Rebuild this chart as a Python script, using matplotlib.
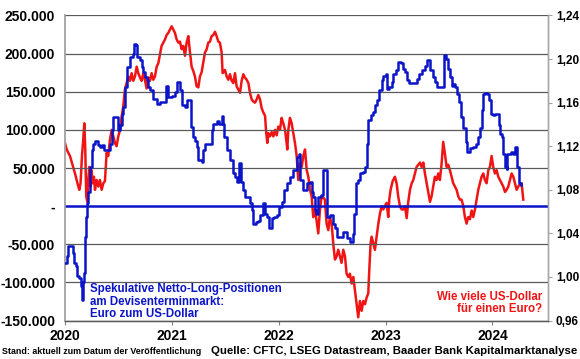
import numpy as np
import matplotlib
matplotlib.use("Agg")
import matplotlib.pyplot as plt
from matplotlib.ticker import FuncFormatter, MultipleLocator

plt.rcParams['font.family'] = ['Liberation Sans', 'DejaVu Sans']
plt.rcParams['font.weight'] = 'bold'

# Netto-Long-Positionen (Kontrakte, in Tsd.), x = Jahre seit 2020
pos_t = [0.000, 0.016, 0.031, 0.062, 0.072, 0.084, 0.103, 0.115, 0.134, 0.146, 0.156, 0.165, 0.178,
         0.184, 0.196, 0.203, 0.218, 0.234, 0.249, 0.265, 0.281, 0.312, 0.327, 0.343, 0.365, 0.390,
         0.421, 0.437, 0.452, 0.483, 0.499, 0.515, 0.530, 0.546, 0.561, 0.577, 0.608, 0.633, 0.645,
         0.664, 0.677, 0.702, 0.717, 0.733, 0.748, 0.764, 0.780, 0.795, 0.826, 0.858, 0.889, 0.920,
         0.945, 0.967, 0.998, 1.029, 1.051, 1.076, 1.091, 1.123, 1.138, 1.163, 1.176, 1.201, 1.216,
         1.238, 1.247, 1.278, 1.294, 1.310, 1.341, 1.372, 1.388, 1.419, 1.444, 1.466, 1.475, 1.488,
         1.513, 1.544, 1.569, 1.591, 1.612, 1.631, 1.643, 1.662, 1.684, 1.731, 1.747, 1.762, 1.787,
         1.809, 1.825, 1.850, 1.871, 1.893, 1.912, 1.934, 1.958, 1.980, 2.005, 2.027, 2.049, 2.074,
         2.105, 2.136, 2.167, 2.186, 2.198, 2.230, 2.261, 2.292, 2.308, 2.323, 2.339, 2.348, 2.370,
         2.392, 2.411, 2.442, 2.454, 2.479, 2.504, 2.526, 2.548, 2.579, 2.604, 2.635, 2.667, 2.691,
         2.707, 2.723, 2.744, 2.760, 2.785, 2.807, 2.822, 2.838, 2.860, 2.885, 2.901, 2.922, 2.941,
         2.963, 2.979, 3.004, 3.016, 3.035, 3.057, 3.073, 3.098, 3.113, 3.142, 3.160, 3.182, 3.198,
         3.223, 3.245, 3.276, 3.292, 3.317, 3.339, 3.370, 3.386, 3.417, 3.439, 3.461, 3.483, 3.514,
         3.539, 3.545, 3.564, 3.585, 3.601, 3.617, 3.632, 3.648, 3.670, 3.689, 3.710, 3.726, 3.751,
         3.764, 3.789, 3.820, 3.845, 3.867, 3.882, 3.898, 3.914, 3.929, 3.951, 3.970, 3.983, 4.001,
         4.023, 4.045, 4.058, 4.070, 4.086, 4.102, 4.117, 4.133, 4.139, 4.158, 4.171, 4.189, 4.211,
         4.227, 4.233, 4.246, 4.258, 4.268]
pos_v = [-75, -65, -52, -52, -62, -75, -79, -92, -94, -105, -123, -100, -88,
         -40, -14, 4, 19, 51, 73, 82, 86, 80, 78, 80, 74, 73,
         82, 100, 117, 117, 100, 106, 121, 130, 156, 182, 195, 200, 213,
         211, 195, 191, 182, 176, 169, 165, 156, 152, 141, 134, 137, 137,
         158, 143, 145, 150, 163, 152, 132, 130, 139, 139, 104, 91, 86,
         78, 60, 58, 73, 82, 82, 100, 108, 112, 108, 118, 108, 91,
         73, 60, 43, 38, 32, 56, 32, 21, 12, 4, -5, -23, -21,
         -19, -12, 4, -10, -14, -29, -16, -14, -12, -1, 6, 21, 30,
         38, 47, 64, 69, 34, 21, 30, 32, 19, 12, -5, -10, 12,
         14, 47, 47, -14, -12, -23, -29, -40, -40, -34, -42, -47, -36,
         -10, 30, 34, 43, 45, 51, 82, 113, 119, 123, 132, 139, 152,
         165, 171, 173, 154, 156, 163, 173, 178, 189, 187, 180, 176, 165,
         161, 161, 161, 167, 173, 178, 184, 191, 178, 169, 163, 156, 156,
         156, 198, 193, 180, 169, 158, 160, 156, 147, 137, 117, 102, 84,
         71, 76, 78, 82, 91, 102, 126, 147, 148, 147, 139, 121, 119,
         121, 121, 106, 95, 91, 69, 51, 49, 69, 69, 71, 69, 78,
         78, 51, 30, 30, 28]

# EUR/USD, x = Jahre seit 2020
fx_t = [0.000, 0.016, 0.031, 0.047, 0.062, 0.078, 0.094, 0.109, 0.125, 0.134, 0.146, 0.159, 0.171,
        0.181, 0.190, 0.199, 0.209, 0.218, 0.228, 0.240, 0.249, 0.259, 0.271, 0.281, 0.296, 0.312,
        0.327, 0.343, 0.359, 0.374, 0.390, 0.405, 0.421, 0.437, 0.452, 0.468, 0.483, 0.499, 0.515,
        0.530, 0.546, 0.561, 0.577, 0.593, 0.608, 0.624, 0.639, 0.655, 0.671, 0.686, 0.702, 0.717,
        0.733, 0.748, 0.764, 0.780, 0.795, 0.811, 0.826, 0.842, 0.858, 0.873, 0.889, 0.904, 0.920,
        0.936, 0.951, 0.967, 0.982, 0.998, 1.014, 1.029, 1.045, 1.061, 1.076, 1.092, 1.107, 1.123,
        1.138, 1.154, 1.170, 1.185, 1.201, 1.216, 1.232, 1.248, 1.263, 1.279, 1.294, 1.310, 1.326,
        1.341, 1.357, 1.372, 1.388, 1.404, 1.419, 1.435, 1.450, 1.466, 1.475, 1.497, 1.513, 1.528,
        1.544, 1.560, 1.575, 1.591, 1.606, 1.622, 1.638, 1.653, 1.669, 1.684, 1.700, 1.716, 1.731,
        1.747, 1.762, 1.778, 1.794, 1.809, 1.825, 1.840, 1.856, 1.872, 1.881, 1.893, 1.903, 1.918,
        1.934, 1.950, 1.965, 1.981, 1.996, 2.012, 2.027, 2.043, 2.059, 2.074, 2.080, 2.090, 2.105,
        2.121, 2.137, 2.152, 2.168, 2.183, 2.199, 2.215, 2.230, 2.246, 2.262, 2.277, 2.293, 2.308,
        2.323, 2.339, 2.354, 2.370, 2.386, 2.401, 2.417, 2.432, 2.448, 2.464, 2.479, 2.495, 2.510,
        2.526, 2.542, 2.557, 2.573, 2.588, 2.604, 2.620, 2.635, 2.651, 2.666, 2.682, 2.698, 2.713,
        2.729, 2.744, 2.760, 2.776, 2.791, 2.807, 2.822, 2.838, 2.847, 2.860, 2.869, 2.885, 2.900,
        2.916, 2.932, 2.947, 2.963, 2.978, 2.994, 3.009, 3.025, 3.034, 3.047, 3.066, 3.087, 3.103,
        3.118, 3.134, 3.150, 3.166, 3.181, 3.197, 3.212, 3.228, 3.244, 3.259, 3.275, 3.290, 3.306,
        3.322, 3.337, 3.353, 3.368, 3.384, 3.400, 3.415, 3.430, 3.446, 3.461, 3.477, 3.493, 3.508,
        3.524, 3.539, 3.555, 3.571, 3.586, 3.602, 3.617, 3.633, 3.649, 3.664, 3.680, 3.695, 3.711,
        3.727, 3.742, 3.758, 3.773, 3.789, 3.805, 3.820, 3.836, 3.851, 3.867, 3.883, 3.898, 3.914,
        3.929, 3.945, 3.961, 3.976, 3.992, 4.007, 4.023, 4.039, 4.054, 4.070, 4.085, 4.101, 4.117,
        4.132, 4.148, 4.163, 4.179, 4.195, 4.210, 4.226, 4.241, 4.257, 4.273, 4.288]
fx_v = [1.123, 1.117, 1.114, 1.111, 1.106, 1.101, 1.095, 1.089, 1.083, 1.080, 1.086, 1.111, 1.126,
        1.141, 1.117, 1.074, 1.069, 1.089, 1.101, 1.083, 1.098, 1.086, 1.092, 1.080, 1.089, 1.083,
        1.089, 1.080, 1.086, 1.088, 1.114, 1.111, 1.126, 1.135, 1.129, 1.123, 1.120, 1.129, 1.135,
        1.147, 1.157, 1.172, 1.178, 1.184, 1.180, 1.187, 1.180, 1.184, 1.193, 1.187, 1.183, 1.180,
        1.187, 1.181, 1.173, 1.183, 1.180, 1.187, 1.181, 1.184, 1.193, 1.196, 1.204, 1.212, 1.215,
        1.218, 1.222, 1.224, 1.227, 1.230, 1.227, 1.224, 1.218, 1.215, 1.216, 1.209, 1.212, 1.203,
        1.215, 1.221, 1.206, 1.193, 1.189, 1.184, 1.175, 1.174, 1.184, 1.188, 1.197, 1.206, 1.209,
        1.215, 1.216, 1.221, 1.222, 1.225, 1.221, 1.216, 1.215, 1.206, 1.187, 1.190, 1.184, 1.181,
        1.186, 1.180, 1.178, 1.187, 1.175, 1.172, 1.169, 1.180, 1.186, 1.183, 1.181, 1.178, 1.169,
        1.163, 1.161, 1.160, 1.163, 1.167, 1.163, 1.155, 1.151, 1.148, 1.135, 1.123, 1.132, 1.129,
        1.133, 1.129, 1.135, 1.130, 1.138, 1.135, 1.146, 1.141, 1.135, 1.123, 1.117, 1.135, 1.146,
        1.141, 1.132, 1.123, 1.111, 1.089, 1.104, 1.101, 1.111, 1.117, 1.098, 1.092, 1.080, 1.074,
        1.055, 1.062, 1.052, 1.040, 1.062, 1.074, 1.073, 1.071, 1.049, 1.043, 1.055, 1.049, 1.031,
        1.016, 1.019, 1.025, 1.019, 1.013, 1.025, 1.019, 1.003, 1.000, 1.003, 0.994, 1.000, 0.988,
        0.976, 0.963, 0.978, 0.969, 0.978, 0.975, 0.981, 0.985, 1.006, 1.031, 1.037, 1.031, 1.025,
        1.037, 1.049, 1.058, 1.065, 1.062, 1.065, 1.068, 1.055, 1.071, 1.080, 1.088, 1.092, 1.086,
        1.074, 1.065, 1.062, 1.062, 1.065, 1.054, 1.069, 1.080, 1.086, 1.089, 1.095, 1.101, 1.103,
        1.105, 1.101, 1.105, 1.095, 1.086, 1.077, 1.069, 1.074, 1.083, 1.092, 1.089, 1.095, 1.089,
        1.104, 1.124, 1.113, 1.101, 1.103, 1.098, 1.092, 1.086, 1.083, 1.080, 1.074, 1.071, 1.071,
        1.065, 1.055, 1.049, 1.055, 1.053, 1.061, 1.055, 1.062, 1.071, 1.080, 1.086, 1.092, 1.095,
        1.089, 1.086, 1.098, 1.101, 1.111, 1.101, 1.095, 1.098, 1.092, 1.089, 1.086, 1.083, 1.078,
        1.080, 1.083, 1.089, 1.095, 1.092, 1.086, 1.080, 1.083, 1.085, 1.086, 1.071]

years = [2020, 2021, 2022, 2023, 2024]

blue = '#0a14c8'
red = '#f01414'
grid = '#5a5a5a'

fig = plt.figure(figsize=(5.8, 3.59), dpi=100)
ax_r = fig.add_axes([0.112, 0.107, 0.832, 0.850])
ax_l = ax_r.twinx()
ax_r.yaxis.tick_right()
ax_l.yaxis.tick_left()
ax_l.yaxis.set_label_position('left')

# EUR/USD (rechte Achse)
ax_r.plot(2020 + np.array(fx_t), fx_v, color=red, linewidth=1.8, zorder=3)
ax_r.set_ylim(0.96, 1.24)
ax_r.yaxis.set_major_locator(MultipleLocator(0.04))
ax_r.yaxis.set_major_formatter(FuncFormatter(lambda v, p: f"{v:.2f}".replace('.', ',')))
ax_r.tick_params(axis='y', which='major', right=True, left=False, length=3, width=0.8,
                 color='#a0a0a0', labelsize=8.5, pad=3)

# Positionen (linke Achse)
for v in range(-150, 251, 50):
    if v != 0:
        ax_l.axhline(v * 1000, color=grid, linewidth=0.9, zorder=0)
ax_l.axhline(0, color=blue, linewidth=1.8, zorder=1)
ax_l.plot(2020 + np.array(pos_t), np.array(pos_v) * 1000, color=blue, linewidth=1.8,
          drawstyle='steps-post', zorder=4)
ax_l.set_ylim(-150000, 250000)
ax_l.yaxis.set_major_locator(MultipleLocator(50000))


def fmt_left(v, p):
    if abs(v) < 1:
        return '-'
    return f"{v:,.0f}".replace(',', '.')


ax_l.yaxis.set_major_formatter(FuncFormatter(fmt_left))
ax_l.tick_params(axis='y', left=True, right=False, length=0, labelsize=10, pad=7)

ax_r.set_xlim(2020, 2024.515)
ax_r.set_xticks(years)
ax_r.set_xticklabels([str(y) for y in years])
ax_r.tick_params(axis='x', length=3, width=0.8, color='#808080', labelsize=10, pad=3)

for a in (ax_r, ax_l):
    a.spines['top'].set_visible(False)
    a.spines['left'].set_color('#a8a8a8')
    a.spines['right'].set_color('#a8a8a8')
    a.spines['bottom'].set_color(grid)
    a.spines['left'].set_linewidth(1.2)
    a.spines['right'].set_linewidth(1.0)
    a.spines['bottom'].set_linewidth(0.9)
    a.patch.set_visible(False)

ax_l.text(0.052, 0.122, 'Spekulative Netto-Long-Positionen\nam Devisenterminmarkt:\nEuro zum US-Dollar',
          transform=ax_l.transAxes, color=blue, fontsize=8.3, fontweight='bold',
          ha='left', va='top', linespacing=1.05)
ax_l.text(0.988, 0.098, 'Wie viele US-Dollar\nfür einen Euro?',
          transform=ax_l.transAxes, color=red, fontsize=8.3, fontweight='bold',
          ha='right', va='top', linespacing=1.05)

fig.text(0.004, 0.008, 'Stand: aktuell zum Datum der Veröffentlichung', fontsize=6.4,
         fontweight='bold', ha='left', va='bottom')
fig.text(0.996, 0.008, 'Quelle: CFTC, LSEG Datastream, Baader Bank Kapitalmarktanalyse', fontsize=8.2,
         fontweight='bold', ha='right', va='bottom')

fig.savefig('out.png', dpi=100)
